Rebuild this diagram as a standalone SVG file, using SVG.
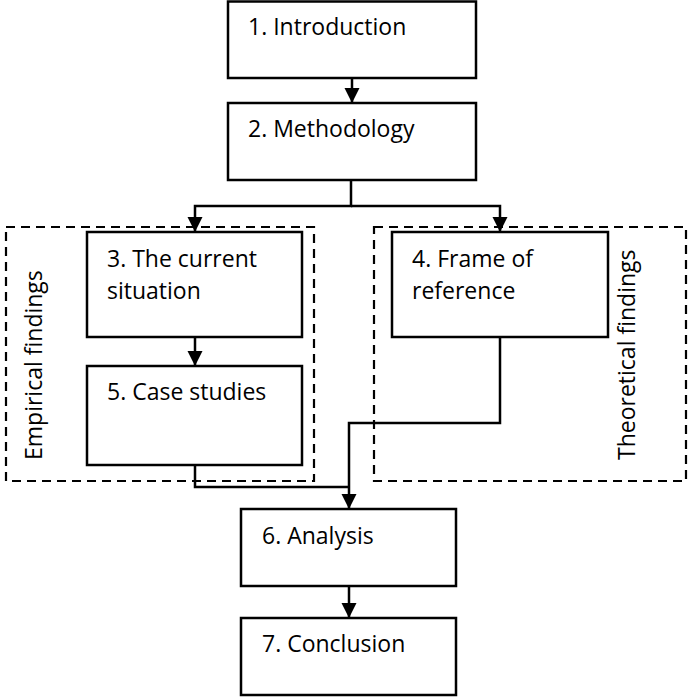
<svg xmlns="http://www.w3.org/2000/svg" width="688" height="697" viewBox="0 0 688 697">
<style>
.box{fill:#fff;stroke:#000;stroke-width:2.5}
.grp{fill:none;stroke:#000;stroke-width:2.2;stroke-dasharray:9 6}
.t{font-family:"Open Sans","Liberation Sans",sans-serif;font-size:23px;fill:#000}
.c{fill:none;stroke:#000;stroke-width:2.5}
</style>
<defs>
<marker id="ah" markerUnits="userSpaceOnUse" markerWidth="16" markerHeight="16" viewBox="0 0 16 16" refX="15" refY="8" orient="auto">
<path d="M0,0.5 L15,8 L0,15.5 Z" fill="#000"/>
</marker>
</defs>
<rect width="688" height="697" fill="#fff"/>
<g id="group-empirical">
<rect class="grp" x="6" y="227" width="308" height="254"/>
<text class="t" transform="translate(42,460) rotate(-90)">Empirical findings</text>
</g>
<g id="group-theoretical">
<rect class="grp" x="374" y="227" width="312" height="254"/>
<text class="t" transform="translate(635,460) rotate(-90)">Theoretical findings</text>
</g>
<g id="connectors">
<path class="c" d="M352,78 V103" marker-end="url(#ah)"/>
<path class="c" d="M351,180 V206 H195 V232" marker-end="url(#ah)"/>
<path class="c" d="M351,206 H500 V232" marker-end="url(#ah)"/>
<path class="c" d="M195,337 V366" marker-end="url(#ah)"/>
<path class="c" d="M195,465 V487 H349"/>
<path class="c" d="M500,337 V423 H349 V509" marker-end="url(#ah)"/>
<path class="c" d="M349,586 V618" marker-end="url(#ah)"/>
</g>
<g id="n1"><rect class="box" x="228" y="1.5" width="248" height="76.5"/><text class="t" x="248" y="35">1. Introduction</text></g>
<g id="n2"><rect class="box" x="228" y="103" width="248" height="77"/><text class="t" x="248" y="137">2. Methodology</text></g>
<g id="n3"><rect class="box" x="87" y="232" width="215" height="105"/><text class="t" x="107" y="267">3. The current</text><text class="t" x="107" y="299">situation</text></g>
<g id="n5"><rect class="box" x="87" y="366" width="215" height="99"/><text class="t" x="107" y="400">5. Case studies</text></g>
<g id="n4"><rect class="box" x="392" y="232" width="216" height="105"/><text class="t" x="412" y="267">4. Frame of</text><text class="t" x="412" y="299">reference</text></g>
<g id="n6"><rect class="box" x="241" y="509" width="215" height="77"/><text class="t" x="262" y="544">6. Analysis</text></g>
<g id="n7"><rect class="box" x="241" y="618" width="215" height="77"/><text class="t" x="262" y="652">7. Conclusion</text></g>
</svg>
